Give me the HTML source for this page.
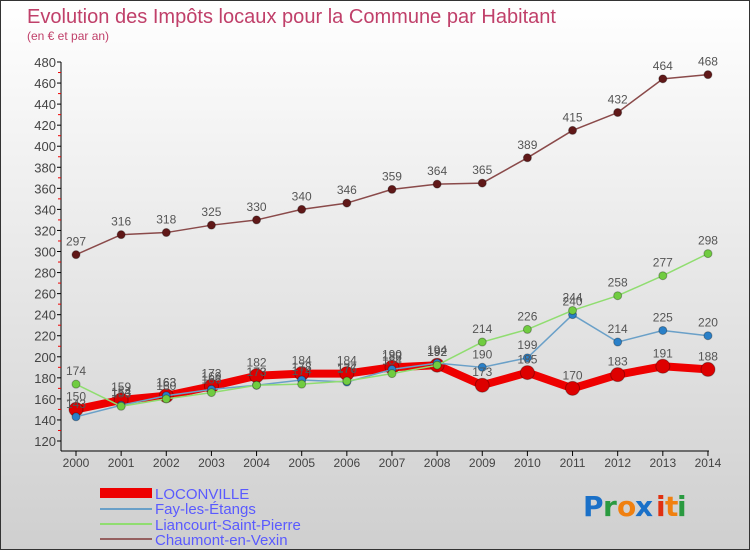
<!DOCTYPE html>
<html><head><meta charset="utf-8"><style>
body{margin:0}
#c{width:748px;height:548px;border:1px solid #333;background:linear-gradient(#ffffff,#cfcfcf);position:relative;overflow:hidden;font-family:"Liberation Sans",sans-serif}
</style></head><body><div id="c">
<svg id="s" width="748" height="548" style="position:absolute;left:0;top:0" font-family="Liberation Sans, sans-serif">
<text x="26" y="22" font-size="20" fill="#c0406a" textLength="529" lengthAdjust="spacingAndGlyphs">Evolution des Impôts locaux pour la Commune par Habitant</text>
<text x="26" y="39" font-size="12" fill="#c0406a">(en € et par an)</text>
<g id="g"></g>
<rect x="99" y="487" width="52" height="10" fill="#ee0000"/>
<line x1="99" y1="508" x2="151" y2="508" stroke="#6aa0c8" stroke-width="2"/>
<line x1="99" y1="523" x2="151" y2="523" stroke="#90dd70" stroke-width="2"/>
<line x1="99" y1="538" x2="151" y2="538" stroke="#956060" stroke-width="2"/>
<g font-size="15" fill="#5a5aff">
<text x="154" y="498">LOCONVILLE</text>
<text x="154" y="513">Fay-les-Étangs</text>
<text x="154" y="529">Liancourt-Saint-Pierre</text>
<text x="154" y="544">Chaumont-en-Vexin</text>
</g>
<g font-size="28" font-family="DejaVu Sans, sans-serif" font-weight="bold">
<text x="582" y="515" fill="#1a70c8">P</text><text x="602" y="515" fill="#2a9a40">r</text><text x="616" y="515" fill="#f08010">o</text><text x="634" y="515" fill="#1a70c8">x</text><text x="655" y="515" fill="#e03010">i</text><text x="664" y="515" fill="#f08010">t</text><text x="676" y="515" fill="#2a9a40">i</text>
</g>
</svg></div>
<script>
var g=document.getElementById('g'),h='';
function X(i){return 75+i*45.14}function Y(v){return 61+(480-v)*1.0528}
h+='<line x1="60" y1="61" x2="60" y2="450" stroke="#000"/><line x1="60" y1="450" x2="708" y2="450" stroke="#000"/>';
for(var v=120;v<=480;v+=20){h+='<line x1="56" x2="60" y1="'+Y(v)+'" y2="'+Y(v)+'" stroke="#000"/><text x="55" y="'+(Y(v)+5)+'" font-size="13" fill="#444" text-anchor="end">'+v+'</text>';if(v<480)h+='<line x1="57" x2="60" y1="'+Y(v+10)+'" y2="'+Y(v+10)+'" stroke="#e00"/>';}
for(var i=0;i<15;i++){h+='<line x1="'+X(i)+'" x2="'+X(i)+'" y1="450" y2="455" stroke="#000"/><text x="'+X(i)+'" y="466" font-size="12" fill="#444" text-anchor="middle">'+(2000+i)+'</text>';}
var S=[
[[150,159,163,172,182,184,184,190,192,173,185,170,183,191,188],'#ee0000',8,7,'#dd0000'],
[[143,154,163,169,173,178,176,188,194,190,199,240,214,225,220],'#6aa0c8',1.5,4,'#2a80c8'],
[[174,153,160,166,173,174,177,184,192,214,226,244,258,277,298],'#90dd70',1.5,4,'#70cc40'],
[[297,316,318,325,330,340,346,359,364,365,389,415,432,464,468],'#8a4a4a',1.5,4,'#601818']];
var L='';
S.forEach(function(s){var p=s[0].map(function(v,i){return X(i)+','+Y(v)}).join(' ');
h+='<polyline points="'+p+'" fill="none" stroke="'+s[1]+'" stroke-width="'+s[2]+'" stroke-linejoin="round"/>';
s[0].forEach(function(v,i){h+='<circle cx="'+X(i)+'" cy="'+Y(v)+'" r="'+s[3]+'" fill="'+s[4]+'" stroke="rgba(0,0,0,.3)"/>';
L+='<text x="'+X(i)+'" y="'+(Y(v)-9)+'" font-size="12" fill="#555" text-anchor="middle">'+v+'</text>';});});
g.innerHTML=h+L;
</script>
</body></html>
